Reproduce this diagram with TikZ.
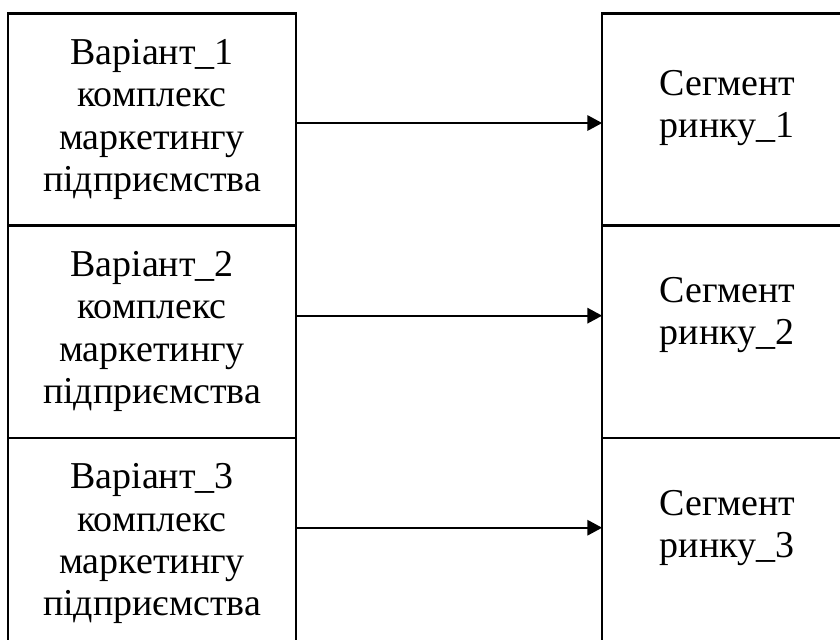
\documentclass[tikz,border=0pt]{standalone}
\usepackage{fontspec}
\setmainfont{Liberation Serif}
\usetikzlibrary{positioning,arrows.meta}

\begin{document}
\begin{tikzpicture}[x=0.025cm, y=-0.025cm]
	% Define styles for boxes
	\tikzset{
		variantbox/.style={
			rectangle,
			draw,
			line width=1.5pt,
			outer sep=0pt,
			minimum width=7.2cm,
			minimum height=5.3cm,
			align=center,
			font=\fontsize{27}{30}\selectfont
		},
		segmentbox/.style={
			rectangle,
			draw,
			line width=1.5pt,
			outer sep=0pt,
			minimum width=6.25cm,
			minimum height=5.3cm
		},
		segtext/.style={
			align=center,
			font=\fontsize{27}{30}\selectfont
		},
		link/.style={
			-{Triangle[length=10.5pt, width=11pt]},
			line width=1.2pt
		}
	}
	\useasboundingbox (0,0) rectangle (840,639);
	\clip (0,0) rectangle (840,639);
	
	% Marketing mix variants
	\node[variantbox] (variant1) at (152,119.5) {Варіант\_1\\комплекс\\маркетингу\\підприємства};
	\node[variantbox, below=0pt of variant1] (variant2) {Варіант\_2\\комплекс\\маркетингу\\підприємства};
	\node[variantbox, below=0pt of variant2] (variant3) {Варіант\_3\\комплекс\\маркетингу\\підприємства};
	
	% Market segments
	\node[segmentbox, right=7.65cm of variant1, label={[segtext, yshift=8pt]center:Сегмент\\ринку\_1}] (segment1) {};
	\node[segmentbox, below=0pt of segment1, label={[segtext, yshift=11.5pt]center:Сегмент\\ринку\_2}] (segment2) {};
	\node[segmentbox, below=0pt of segment2, label={[segtext, yshift=11pt]center:Сегмент\\ринку\_3}] (segment3) {};
	
	% Arrows from variants to segments
	\draw[link] ([yshift=-2.5pt]variant1.east) -- ([yshift=-2.5pt]segment1.west);
	\draw[link] ([yshift=11.3pt]variant2.east) -- ([yshift=11.3pt]segment2.west);
	\draw[link] ([yshift=11.3pt]variant3.east) -- ([yshift=11.3pt]segment3.west);
\end{tikzpicture}
\end{document}
